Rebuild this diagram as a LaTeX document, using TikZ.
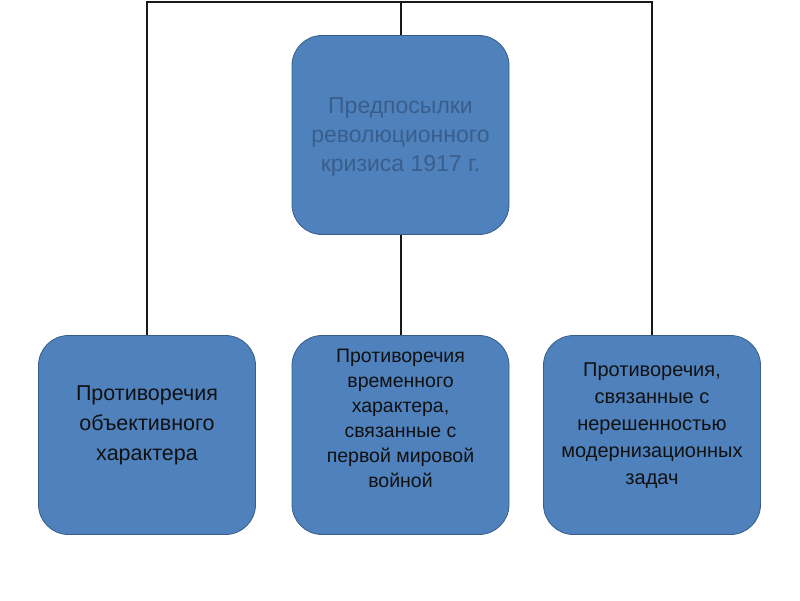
\documentclass[tikz,border=0pt]{standalone}
\usepackage{fontspec}
\setmainfont{Liberation Sans}
\definecolor{boxfill}{HTML}{4F81BD}
\definecolor{boxline}{HTML}{385D8A}
\definecolor{toptext}{HTML}{3A5E8C}
\definecolor{bottext}{HTML}{111111}
\begin{document}
\begin{tikzpicture}[x=1pt,y=-1pt,
  box/.style={draw=boxline, line width=0.8pt, fill=boxfill, rounded corners=30pt,
    minimum width=217pt, minimum height=199pt, inner sep=0pt},
  lbl/.style={align=center, inner sep=0pt},
  link/.style={draw=black!90, line width=2pt}]
\path[use as bounding box, fill=white] (0,0) rectangle (800,600);
\node[box] (T) at (400.5,135) {};
\node[box] (L) at (147,435) {};
\node[box] (M) at (400.5,435) {};
\node[box] (R) at (652,435) {};
\node[lbl, text=toptext, font=\fontsize{23}{29}\selectfont] (Tt) at (400.5,137)
  {Предпосылки\\революционного\\кризиса 1917 г.};
\node[lbl, text=bottext, font=\fontsize{21.5}{30}\selectfont] (Lt) at (147,425)
  {Противоречия\\объективного\\характера};
\node[lbl, text=bottext, font=\fontsize{19.5}{25}\selectfont] (Mt) at (400.5,418)
  {Противоречия\\временного\\характера,\\связанные с\\первой мировой\\войной};
\node[lbl, text=bottext, font=\fontsize{20}{27}\selectfont] (Rt) at (652,426)
  {Противоречия,\\связанные с\\нерешенностью\\модернизационных\\задач};
\coordinate (top) at (400,2);
\draw[link] (L.north) -- (L.north |- top) -- (R.north |- top) -- (R.north);
\draw[link] (T.north) -- (T.north |- top);
\draw[link] (T.south) -- (M.north);
\end{tikzpicture}
\end{document}
